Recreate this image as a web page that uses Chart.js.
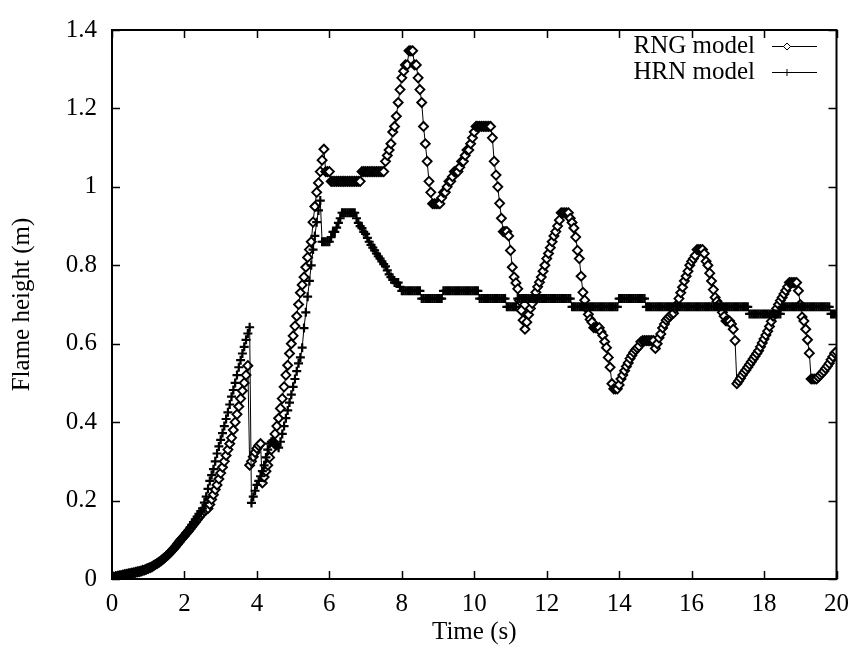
<!DOCTYPE html>
<html>
<head>
<meta charset="utf-8">
<script src="https://cdn.jsdelivr.net/npm/chart.js@4.4.0/dist/chart.umd.min.js"></script>
<style>
html, body { margin: 0; padding: 0; background: #fff; }
</style>
</head>
<body>
<canvas id="flame" width="859" height="651"></canvas>
<script>
// flame height sampled every 0.05 s, one row per second
var dt = 0.05
var rngHeight = [
  0, 0.004, 0.006, 0.007, 0.008, 0.009, 0.010, 0.011, 0.012, 0.013, 0.014, 0.015, 0.016, 0.017, 0.018, 0.019, 0.020, 0.022, 0.023, 0.025,
  0.027, 0.029, 0.031, 0.034, 0.037, 0.040, 0.043, 0.046, 0.050, 0.054, 0.058, 0.062, 0.067, 0.072, 0.077, 0.082, 0.088, 0.094, 0.100, 0.105,
  0.110, 0.116, 0.121, 0.127, 0.133, 0.139, 0.145, 0.151, 0.157, 0.163, 0.168, 0.173, 0.177, 0.180, 0.190, 0.203, 0.215, 0.228, 0.240, 0.255,
  0.270, 0.285, 0.300, 0.315, 0.330, 0.345, 0.360, 0.380, 0.400, 0.420, 0.440, 0.460, 0.480, 0.500, 0.520, 0.544, 0.290, 0.300, 0.312, 0.323,
  0.333, 0.340, 0.345, 0.245, 0.260, 0.275, 0.290, 0.310, 0.330, 0.350, 0.370, 0.390, 0.410, 0.435, 0.460, 0.490, 0.520, 0.545, 0.575, 0.600,
  0.620, 0.645, 0.670, 0.700, 0.730, 0.750, 0.770, 0.795, 0.820, 0.840, 0.860, 0.910, 0.950, 0.986, 1.010, 1.039, 1.068, 1.096, 1.039, 1.039,
  1.039, 1.014, 1.014, 1.014, 1.014, 1.014, 1.014, 1.014, 1.014, 1.014, 1.014, 1.014, 1.014, 1.014, 1.014, 1.014, 1.014, 1.014, 1.039, 1.039,
  1.039, 1.039, 1.039, 1.039, 1.039, 1.039, 1.039, 1.039, 1.039, 1.039, 1.039, 1.065, 1.080, 1.094, 1.110, 1.140, 1.154, 1.180, 1.215, 1.248,
  1.278, 1.295, 1.311, 1.311, 1.347, 1.347, 1.347, 1.311, 1.311, 1.278, 1.248, 1.215, 1.154, 1.110, 1.065, 1.014, 0.986, 0.957, 0.957, 0.957,
  0.957, 0.957, 0.972, 0.986, 0.986, 1.000, 1.014, 1.014, 1.026, 1.039, 1.039, 1.039, 1.050, 1.065, 1.065, 1.080, 1.094, 1.094, 1.110, 1.125,
  1.140, 1.154, 1.154, 1.154, 1.154, 1.154, 1.154, 1.154, 1.154, 1.154, 1.125, 1.065, 1.030, 1.000, 0.958, 0.920, 0.886, 0.886, 0.886, 0.875,
  0.838, 0.795, 0.770, 0.755, 0.740, 0.710, 0.685, 0.660, 0.637, 0.655, 0.674, 0.690, 0.703, 0.717, 0.731, 0.745, 0.757, 0.770, 0.785, 0.800,
  0.817, 0.830, 0.845, 0.860, 0.875, 0.886, 0.900, 0.915, 0.934, 0.934, 0.934, 0.934, 0.934, 0.920, 0.909, 0.895, 0.872, 0.838, 0.817, 0.772,
  0.731, 0.711, 0.690, 0.675, 0.662, 0.655, 0.641, 0.641, 0.641, 0.641, 0.630, 0.621, 0.605, 0.590, 0.565, 0.540, 0.498, 0.485, 0.485, 0.485,
  0.495, 0.510, 0.520, 0.531, 0.542, 0.551, 0.562, 0.570, 0.578, 0.584, 0.589, 0.594, 0.605, 0.608, 0.608, 0.608, 0.608, 0.608, 0.608, 0.608,
  0.588, 0.600, 0.615, 0.625, 0.640, 0.650, 0.660, 0.665, 0.670, 0.675, 0.678, 0.690, 0.700, 0.715, 0.730, 0.744, 0.760, 0.772, 0.785, 0.800,
  0.810, 0.817, 0.825, 0.840, 0.840, 0.840, 0.840, 0.830, 0.810, 0.800, 0.780, 0.760, 0.738, 0.718, 0.708, 0.700, 0.690, 0.680, 0.670, 0.658,
  0.658, 0.658, 0.650, 0.637, 0.608, 0.498, 0.505, 0.512, 0.520, 0.527, 0.533, 0.540, 0.547, 0.554, 0.561, 0.568, 0.575, 0.582, 0.592, 0.602,
  0.612, 0.622, 0.632, 0.644, 0.657, 0.670, 0.680, 0.690, 0.700, 0.710, 0.718, 0.727, 0.736, 0.745, 0.756, 0.756, 0.756, 0.756, 0.756, 0.735,
  0.700, 0.668, 0.658, 0.637, 0.610, 0.576, 0.510, 0.510, 0.510, 0.510, 0.515, 0.520, 0.525, 0.530, 0.537, 0.543, 0.550, 0.559, 0.567, 0.576,
  0.580
]
var hrnHeight = [
  0, 0.004, 0.006, 0.007, 0.008, 0.009, 0.010, 0.011, 0.012, 0.013, 0.014, 0.015, 0.016, 0.017, 0.018, 0.020, 0.021, 0.022, 0.024, 0.026,
  0.028, 0.030, 0.032, 0.035, 0.038, 0.041, 0.044, 0.047, 0.051, 0.055, 0.059, 0.064, 0.069, 0.074, 0.079, 0.084, 0.090, 0.096, 0.102, 0.107,
  0.112, 0.118, 0.124, 0.131, 0.138, 0.145, 0.152, 0.159, 0.166, 0.173, 0.180, 0.195, 0.210, 0.230, 0.250, 0.265, 0.280, 0.300, 0.320, 0.338,
  0.355, 0.372, 0.390, 0.408, 0.425, 0.445, 0.465, 0.482, 0.500, 0.520, 0.540, 0.558, 0.575, 0.592, 0.610, 0.626, 0.642, 0.194, 0.210, 0.225,
  0.240, 0.250, 0.262, 0.275, 0.290, 0.310, 0.330, 0.345, 0.350, 0.350, 0.345, 0.340, 0.335, 0.350, 0.370, 0.390, 0.410, 0.430, 0.450, 0.470,
  0.490, 0.510, 0.530, 0.550, 0.565, 0.590, 0.640, 0.680, 0.720, 0.760, 0.800, 0.840, 0.875, 0.910, 0.940, 0.965, 0.860, 0.860, 0.860, 0.860,
  0.860, 0.872, 0.885, 0.885, 0.896, 0.908, 0.920, 0.934, 0.934, 0.934, 0.934, 0.934, 0.934, 0.934, 0.934, 0.920, 0.908, 0.900, 0.895, 0.885,
  0.880, 0.870, 0.860, 0.852, 0.845, 0.838, 0.830, 0.823, 0.817, 0.810, 0.803, 0.797, 0.787, 0.777, 0.770, 0.763, 0.756, 0.756, 0.756, 0.745,
  0.735, 0.735, 0.735, 0.735, 0.735, 0.735, 0.735, 0.735, 0.735, 0.735, 0.735, 0.715, 0.715, 0.715, 0.715, 0.715, 0.715, 0.715, 0.715, 0.715,
  0.715, 0.715, 0.715, 0.735, 0.735, 0.735, 0.735, 0.735, 0.735, 0.735, 0.735, 0.735, 0.735, 0.735, 0.735, 0.735, 0.735, 0.735, 0.735, 0.735,
  0.735, 0.735, 0.735, 0.715, 0.715, 0.715, 0.715, 0.715, 0.715, 0.715, 0.715, 0.715, 0.715, 0.715, 0.715, 0.715, 0.715, 0.715, 0.694, 0.694,
  0.694, 0.694, 0.694, 0.694, 0.715, 0.715, 0.715, 0.715, 0.715, 0.715, 0.715, 0.715, 0.715, 0.715, 0.715, 0.715, 0.715, 0.715, 0.715, 0.715,
  0.715, 0.715, 0.715, 0.715, 0.715, 0.715, 0.715, 0.715, 0.715, 0.715, 0.715, 0.715, 0.715, 0.715, 0.694, 0.694, 0.694, 0.694, 0.694, 0.694,
  0.694, 0.694, 0.694, 0.694, 0.694, 0.694, 0.694, 0.694, 0.694, 0.694, 0.694, 0.694, 0.694, 0.694, 0.694, 0.694, 0.694, 0.694, 0.694, 0.694,
  0.715, 0.715, 0.715, 0.715, 0.715, 0.715, 0.715, 0.715, 0.715, 0.715, 0.715, 0.715, 0.715, 0.715, 0.715, 0.694, 0.694, 0.694, 0.694, 0.694,
  0.694, 0.694, 0.694, 0.694, 0.694, 0.694, 0.694, 0.694, 0.694, 0.694, 0.694, 0.694, 0.694, 0.694, 0.694, 0.694, 0.694, 0.694, 0.694, 0.694,
  0.694, 0.694, 0.694, 0.694, 0.694, 0.694, 0.694, 0.694, 0.694, 0.694, 0.694, 0.694, 0.694, 0.694, 0.694, 0.694, 0.694, 0.694, 0.694, 0.694,
  0.694, 0.694, 0.694, 0.694, 0.694, 0.694, 0.694, 0.694, 0.694, 0.694, 0.694, 0.694, 0.676, 0.676, 0.676, 0.676, 0.676, 0.676, 0.676, 0.676,
  0.676, 0.676, 0.676, 0.676, 0.676, 0.676, 0.676, 0.676, 0.676, 0.676, 0.694, 0.694, 0.694, 0.694, 0.694, 0.694, 0.694, 0.694, 0.694, 0.694,
  0.694, 0.694, 0.694, 0.694, 0.694, 0.694, 0.694, 0.694, 0.694, 0.694, 0.694, 0.694, 0.694, 0.694, 0.694, 0.694, 0.694, 0.676, 0.676, 0.676,
  0.676
]
var seriesNames = ["RNG model", "HRN model"]
var xTitle = "Time (s)"
var yTitle = "Flame height (m)"

var serif = { family: "'Liberation Serif', 'DejaVu Serif', serif", size: 25 }

function toPoints(arr){
    return arr.map(function(v, i){ return { x: +(i * dt).toFixed(2), y: v } })
}

// gnuplot-like frame with inward ticks on all four sides
var frameTicks = {
    id: "frameTicks",
    afterDatasetsDraw: function(chart){
        var ctx = chart.ctx, a = chart.chartArea
        var xs = chart.scales.x, ys = chart.scales.y
        var len = 8
        ctx.save()
        ctx.strokeStyle = "#000"
        ctx.lineWidth = 1.5
        ctx.beginPath()
        xs.ticks.forEach(function(t){
            var px = Math.round(xs.getPixelForValue(t.value)) + 0.5
            ctx.moveTo(px, a.bottom); ctx.lineTo(px, a.bottom - len)
            ctx.moveTo(px, a.top); ctx.lineTo(px, a.top + len)
        })
        ys.ticks.forEach(function(t){
            var py = Math.round(ys.getPixelForValue(t.value)) + 0.5
            ctx.moveTo(a.left, py); ctx.lineTo(a.left + len, py)
            ctx.moveTo(a.right, py); ctx.lineTo(a.right - len, py)
        })
        ctx.stroke()
        ctx.lineWidth = 2
        ctx.strokeRect(a.left, a.top, a.right - a.left, a.bottom - a.top)
        ctx.restore()
    }
}

// key in the top right: text, then a line sample with its point
var keyBox = {
    id: "keyBox",
    afterDraw: function(chart){
        var ctx = chart.ctx
        ctx.save()
        ctx.font = "25px 'Liberation Serif', 'DejaVu Serif', serif"
        ctx.textAlign = "right"
        ctx.textBaseline = "middle"
        chart.data.datasets.forEach(function(ds, i){
            var y = 46 + i * 26
            ctx.fillStyle = "#000"
            ctx.fillText(ds.label, 755, y)
            ctx.strokeStyle = "#000"
            ctx.lineWidth = 1
            ctx.beginPath()
            ctx.moveTo(772, y + 0.5); ctx.lineTo(817, y + 0.5)
            ctx.stroke()
            ctx.fillStyle = "#fff"
            Chart.helpers.drawPoint(ctx, {
                pointStyle: ds.pointStyle,
                radius: 3.5,
                borderWidth: 1
            }, 787, y + 0.5)
        })
        ctx.restore()
    }
}

new Chart(document.getElementById("flame"), {
    type: "line",
    data: {
        datasets: [{
            label: seriesNames[0],
            data: toPoints(rngHeight),
            borderColor: "#000",
            borderWidth: 1,
            pointStyle: "rectRot",
            pointRadius: 4.5,
            pointBorderWidth: 1.9,
            pointBorderColor: "#000",
            pointBackgroundColor: "#fff",
            order: 1
        }, {
            label: seriesNames[1],
            data: toPoints(hrnHeight),
            borderColor: "#000",
            borderWidth: 1,
            pointStyle: "cross",
            pointRadius: 4.5,
            pointBorderWidth: 2.2,
            pointBorderColor: "#000",
            pointBackgroundColor: "#000",
            order: 0
        }]
    },
    options: {
        responsive: false,
        animation: false,
        layout: { padding: { top: 11, right: 17, bottom: 0, left: 0 } },
        plugins: { legend: { display: false }, tooltip: { enabled: false } },
        scales: {
            x: {
                type: "linear", min: 0, max: 20,
                ticks: { stepSize: 2, color: "#000", font: serif, padding: 10, maxRotation: 0,
                    callback: function(v){ return String(v) } },
                grid: { display: false, drawTicks: false },
                border: { display: false },
                title: { display: true, text: xTitle, color: "#000", font: serif, padding: { top: 0, bottom: 4 } },
                afterFit: function(s){ s.height = 72 }
            },
            y: {
                min: 0, max: 1.4,
                ticks: { stepSize: 0.2, color: "#000", font: serif, padding: 15,
                    callback: function(v){ return String(+v.toFixed(1)) } },
                grid: { display: false, drawTicks: false },
                border: { display: false },
                title: { display: true, text: yTitle, color: "#000", font: serif, padding: { top: 7, bottom: 0 } },
                afterFit: function(s){ s.width = 112 }
            }
        }
    },
    plugins: [frameTicks, keyBox]
})
</script>
</body>
</html>
